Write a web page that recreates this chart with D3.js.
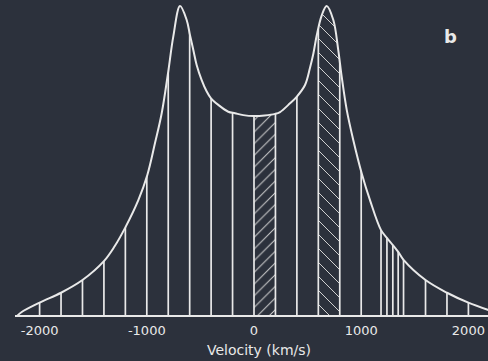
<!DOCTYPE html>
<html>
<head>
<meta charset="utf-8">
<script src="https://cdn.jsdelivr.net/npm/d3@7"></script>
<style>
  html, body { margin: 0; padding: 0; background: #2c313c; }
  #chart { width: 488px; height: 361px; }
</style>
</head>
<body>
<div id="chart"></div>
<script>
// line profile (velocity in km/s, relative flux)
const profileVel = [-2210, -2170, -2000, -1800, -1600, -1400, -1300, -1200, -1079, -995, -924, -861, -800, -753, -690,
  -628, -597, -566, -535, -488, -441, -401, -333, -240, -177, -100, 0, 100, 196, 243, 336, 398, 476, 522, 553, 585, 632, 678,
  740, 786, 818, 865, 926, 1005, 1082, 1185, 1240, 1295, 1345, 1395, 1600, 1800, 2000, 2190];
const profileFlux = [0, 0.012, 0.043, 0.075, 0.116, 0.177, 0.225, 0.286, 0.374, 0.455, 0.557, 0.654, 0.788, 0.901, 1.0,
  0.955, 0.906, 0.858, 0.81, 0.761, 0.724, 0.702, 0.681, 0.659, 0.654, 0.648, 0.645, 0.647, 0.652, 0.658, 0.686, 0.707, 0.745, 0.80, 0.845, 0.905, 0.97, 1.0,
  0.955, 0.858, 0.772, 0.665, 0.568, 0.46, 0.374, 0.277, 0.252, 0.229, 0.207, 0.181, 0.116, 0.075, 0.043, 0.019];

// vertical slice boundaries
const sliceVel = [-2000, -1800, -1600, -1400, -1200, -1000, -800, -600, -400, -200, 0, 200, 400, 600, 800, 1000,
  1185, 1240, 1295, 1345, 1395, 1600, 1800, 2000];

// hatched bands
const hatchBands = [[0, 200, "fwd"], [600, 800, "back"]];

const tickValues = [-2000, -1000, 0, 1000, 2000];
const xLabel = "Velocity (km/s)";
const panelLabel = "b";

const width = 488;
const height = 361;
const ink = "#e9e9e9";

const x = d3.scaleLinear().domain([-2000, 2000]).range([39.6, 468.4]);
const y = d3.scaleLinear().domain([0, 1]).range([316, 6]);

const svg = d3.select("#chart")
  .append("svg")
  .attr("width", width)
  .attr("height", height)
  .style("background", "#2c313c");

const profile = profileVel.map((v, i) => [v, profileFlux[i]]);

const defs = svg.append("defs");

// area under the profile, used to cut slices and hatching
const area = d3.area()
  .x(d => x(d[0]))
  .y0(y(0))
  .y1(d => y(d[1]))
  .curve(d3.curveCatmullRom.alpha(0.5));

defs.append("clipPath")
  .attr("id", "under")
  .append("path")
  .datum(profile)
  .attr("d", area);

// hatch patterns
const pFwd = defs.append("pattern")
  .attr("id", "hatch-fwd")
  .attr("patternUnits", "userSpaceOnUse")
  .attr("width", 11.7).attr("height", 11.7);
pFwd.append("path")
  .attr("d", "M0,11.7L11.7,0M-3,3L3,-3M8.7,14.7L14.7,8.7")
  .attr("stroke", "#d0d0d0").attr("stroke-width", 1);

const pBack = defs.append("pattern")
  .attr("id", "hatch-back")
  .attr("patternUnits", "userSpaceOnUse")
  .attr("width", 14).attr("height", 14);
pBack.append("path")
  .attr("d", "M0,0L14,14M-3,11L3,17M11,-3L17,3")
  .attr("stroke", "#d0d0d0").attr("stroke-width", 1);

const under = svg.append("g").attr("clip-path", "url(#under)");

under.selectAll("rect.hatch")
  .data(hatchBands)
  .enter()
  .append("rect")
  .attr("class", "hatch")
  .attr("x", d => x(d[0]))
  .attr("width", d => x(d[1]) - x(d[0]))
  .attr("y", 0)
  .attr("height", y(0))
  .attr("fill", d => `url(#hatch-${d[2]})`);

under.selectAll("line.slice")
  .data(sliceVel)
  .enter()
  .append("line")
  .attr("class", "slice")
  .attr("x1", d => x(d)).attr("x2", d => x(d))
  .attr("y1", y(0)).attr("y2", 0)
  .attr("stroke", ink)
  .attr("stroke-width", 1.7);

// profile outline
svg.append("path")
  .datum(profile)
  .attr("d", d3.line().x(d => x(d[0])).y(d => y(d[1])).curve(d3.curveCatmullRom.alpha(0.5)))
  .attr("fill", "none")
  .attr("stroke", ink)
  .attr("stroke-width", 2);

// baseline
svg.append("line")
  .attr("x1", 15).attr("x2", width)
  .attr("y1", y(0)).attr("y2", y(0))
  .attr("stroke", ink)
  .attr("stroke-width", 2);

svg.selectAll("text.tick")
  .data(tickValues)
  .enter()
  .append("text")
  .attr("class", "tick")
  .attr("x", d => x(d))
  .attr("y", 335)
  .attr("text-anchor", "middle")
  .attr("fill", ink)
  .style("font-family", "DejaVu Sans, sans-serif")
  .style("font-size", "13px")
  .text(d => String(d));

svg.append("text")
  .attr("x", 259)
  .attr("y", 355)
  .attr("text-anchor", "middle")
  .attr("fill", ink)
  .style("font-family", "DejaVu Sans, sans-serif")
  .style("font-size", "14px")
  .text(xLabel);

svg.append("text")
  .attr("x", 444)
  .attr("y", 43)
  .attr("fill", ink)
  .style("font-family", "DejaVu Sans, sans-serif")
  .style("font-size", "18px")
  .style("font-weight", "bold")
  .text(panelLabel);
</script>
</body>
</html>
